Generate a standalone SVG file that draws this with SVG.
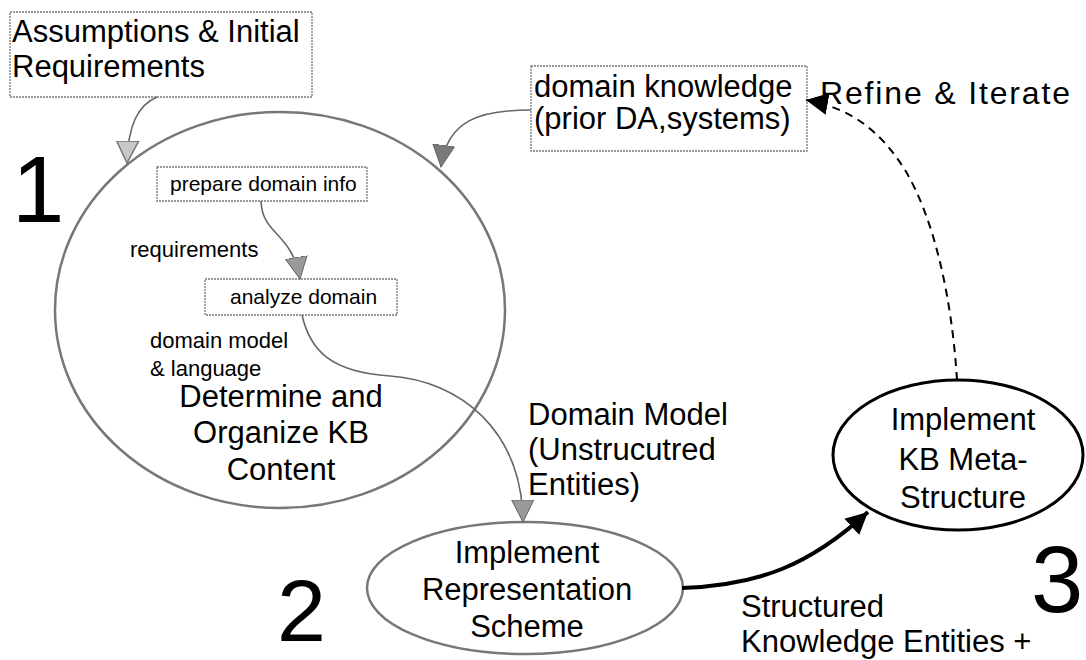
<svg xmlns="http://www.w3.org/2000/svg" width="1086" height="660" viewBox="0 0 1086 660">
<style>
text{font-family:"Liberation Sans",Arial,sans-serif;fill:#000}
.big{font-size:31px}
.small{font-size:21px}
.lbl{font-size:22px}
.num{font-size:94px}
.box{fill:#fff;stroke:#777;stroke-width:1.3;stroke-dasharray:2 1}
.gline{fill:none;stroke:#666;stroke-width:1.6}
.mid{text-anchor:middle}
</style>
<defs>
<marker id="gLight" markerUnits="userSpaceOnUse" markerWidth="26" markerHeight="26" viewBox="0 0 26 26" refX="22" refY="12" orient="auto">
<path d="M0,1 L22,12 L0,23 Z" fill="#c8c8c8" stroke="#777" stroke-width="1.5"/>
</marker>
<marker id="gDark" markerUnits="userSpaceOnUse" markerWidth="26" markerHeight="26" viewBox="0 0 26 26" refX="22" refY="12" orient="auto">
<path d="M0,1 L22,12 L0,23 Z" fill="#7a7a7a" stroke="#666" stroke-width="1"/>
</marker>
<marker id="gMid" markerUnits="userSpaceOnUse" markerWidth="26" markerHeight="26" viewBox="0 0 26 26" refX="22" refY="12" orient="auto">
<path d="M0,1 L22,12 L0,23 Z" fill="#9a9a9a" stroke="#666" stroke-width="1"/>
</marker>
<marker id="black" markerUnits="userSpaceOnUse" markerWidth="26" markerHeight="26" viewBox="0 0 26 26" refX="22" refY="12" orient="auto">
<path d="M0,1 L22,12 L0,23 Z" fill="#000" stroke="none"/>
</marker>
</defs>
<rect width="1086" height="660" fill="#fff"/>

<g id="node-content">
<ellipse cx="280" cy="310" rx="225" ry="198" fill="none" stroke="#777" stroke-width="2.5"/>
<text class="big mid" x="281" y="407">Determine and</text>
<text class="big mid" x="281" y="443">Organize KB</text>
<text class="big mid" x="281" y="480">Content</text>
</g>

<g id="node-assumptions">
<rect class="box" x="10" y="12" width="302" height="85"/>
<text class="big" x="12" y="42">Assumptions &amp; Initial</text>
<text class="big" x="12" y="77">Requirements</text>
</g>

<g id="node-domain-knowledge">
<rect class="box" x="531" y="66" width="276" height="85"/>
<text class="big" x="534" y="97">domain knowledge</text>
<text class="big" x="534" y="129">(prior DA,systems)</text>
</g>

<g id="node-prepare">
<rect class="box" x="157" y="167" width="210" height="34"/>
<text class="small" x="170" y="191">prepare domain info</text>
</g>

<g id="node-analyze">
<rect class="box" x="205" y="279" width="192" height="36"/>
<text class="small" x="230" y="304">analyze domain</text>
</g>

<g id="node-representation">
<ellipse cx="525" cy="588" rx="158" ry="66" fill="none" stroke="#777" stroke-width="2.5"/>
<text class="big mid" x="527" y="563">Implement</text>
<text class="big mid" x="527" y="600">Representation</text>
<text class="big mid" x="527" y="637">Scheme</text>
</g>

<g id="node-meta">
<ellipse cx="958" cy="455" rx="125" ry="75" fill="none" stroke="#000" stroke-width="3"/>
<text class="big mid" x="963" y="430">Implement</text>
<text class="big mid" x="963" y="470">KB Meta-</text>
<text class="big mid" x="963" y="508">Structure</text>
</g>

<g id="labels">
<text class="num" x="12" y="222">1</text>
<text x="277" y="641" style="font-size:88px">2</text>
<text class="num" x="1031" y="612">3</text>
<text class="lbl" x="130" y="257">requirements</text>
<text class="lbl" x="150" y="348">domain model</text>
<text class="lbl" x="150" y="376">&amp; language</text>
<text class="big" x="528" y="425">Domain Model</text>
<text class="big" x="528" y="460">(Unstrucutred</text>
<text class="big" x="528" y="495">Entities)</text>
<text class="big" x="741" y="617">Structured</text>
<text class="big" x="741" y="652">Knowledge Entities +</text>
<text x="820" y="104" style="font-size:32px" textLength="250" lengthAdjust="spacing">Refine &amp; Iterate</text>
</g>

<g id="connectors">
<path class="gline" d="M157,97 C138,105 128,125 127,163" marker-end="url(#gLight)"/>
<path class="gline" d="M531,110 C480,110 447,120 441,167" marker-end="url(#gDark)"/>
<path class="gline" d="M261,201 C262,235 292,232 300,279" marker-end="url(#gMid)"/>
<path class="gline" d="M302,315 C310,350 330,372 390,376 C460,381 522,430 523,522" marker-end="url(#gMid)"/>
<path d="M682,588 C760,585 810,565 868,512" fill="none" stroke="#000" stroke-width="4" marker-end="url(#black)"/>
<path d="M957,380 C952,300 935,220 905,170 C880,130 850,108 806,100" fill="none" stroke="#000" stroke-width="2" stroke-dasharray="8 6" marker-end="url(#black)"/>
</g>
</svg>
